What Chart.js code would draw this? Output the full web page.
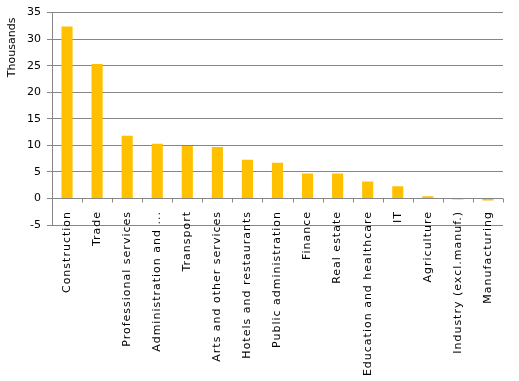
<!DOCTYPE html>
<html>
<head>
<meta charset="utf-8">
<script src="https://cdn.jsdelivr.net/npm/chart.js@4"></script>
<style>
html,body{margin:0;padding:0;background:#fff;}
#wrap{width:519px;height:381px;position:relative;}
</style>
</head>
<body>
<div id="wrap"><canvas id="c" width="519" height="381"></canvas></div>
<script>
const categories = ["Construction","Trade","Professional services","Administration and ...","Transport","Arts and other services","Hotels and restaurants","Public administration","Finance","Real estate","Education and healthcare","IT","Agriculture","Industry (excl.manuf.)","Manufacturing"];
const values = [32.4,25.3,11.8,10.3,9.9,9.7,7.3,6.7,4.7,4.7,3.2,2.3,0.4,-0.2,-0.4];
const yTicks = [-5,0,5,10,15,20,25,30,35];
const yTitle = "Thousands";

const GRID = '#868686';
const zeroTicks = {
  id: 'zeroTicks',
  afterDatasetsDraw(chart) {
    const xs = chart.scales.x, ys = chart.scales.y, ctx = chart.ctx;
    const y0 = Math.round(ys.getPixelForValue(0)) + 0.5;
    const n = categories.length;
    ctx.save();
    ctx.strokeStyle = GRID; ctx.lineWidth = 1;
    ctx.beginPath();
    ctx.moveTo(xs.left, y0); ctx.lineTo(xs.right, y0);
    for (let i = 0; i <= n; i++) {
      let x;
      if (i === 0) x = xs.left;
      else if (i === n) x = xs.right;
      else x = (xs.getPixelForValue(i - 1) + xs.getPixelForValue(i)) / 2;
      x = Math.round(x) + 0.5;
      ctx.moveTo(x, y0); ctx.lineTo(x, y0 + 4);
    }
    ctx.stroke();
    ctx.restore();
  }
};

Chart.defaults.font.family = "'DejaVu Sans', Verdana, sans-serif";
Chart.defaults.font.size = 11;
Chart.defaults.color = '#000';

new Chart(document.getElementById('c'), {
  type: 'bar',
  data: {
    labels: categories,
    datasets: [{ data: values, backgroundColor: '#FFC000', borderWidth: 0, categoryPercentage: 1, barPercentage: 0.37 }]
  },
  options: {
    responsive: false,
    animation: false,
    layout: { padding: { left: 6, top: 10, right: 16, bottom: 0 } },
    plugins: { legend: { display: false }, tooltip: { enabled: false } },
    scales: {
      x: {
        grid: { display: false, drawTicks: false },
        border: { display: false },
        ticks: { autoSkip: false, maxRotation: 90, minRotation: 90, padding: -14, color: '#000' },
        afterFit(s) {
          s.height = 156;
          s._computeLabelArea = () => undefined;
          if (!s._wrapped) {
            s._wrapped = true;
            const orig = s.drawLabels.bind(s);
            s.drawLabels = (area) => {
              const ctx = s.ctx; ctx.save(); ctx.letterSpacing = '1px'; orig(area); ctx.restore();
            };
          }
        }
      },
      y: {
        min: -5, max: 35,
        afterBuildTicks(s) { s.ticks = yTicks.map(v => ({ value: v })); },
        grid: { color: GRID, tickLength: 5, tickColor: GRID },
        border: { display: true, color: GRID },
        ticks: { padding: 6, color: '#000' },
        title: { display: true, text: yTitle, align: 'end', color: '#000', padding: { top: 0, bottom: 4 } },
        afterFit(s) {
          s.width = 46;
          if (!s._wrapped) {
            s._wrapped = true;
            const orig = s.drawTitle.bind(s);
            s.drawTitle = (area) => {
              const ctx = s.ctx; ctx.save(); ctx.translate(0, 5); orig(area); ctx.restore();
            };
          }
        }
      }
    }
  },
  plugins: [zeroTicks]
});
</script>
</body>
</html>
